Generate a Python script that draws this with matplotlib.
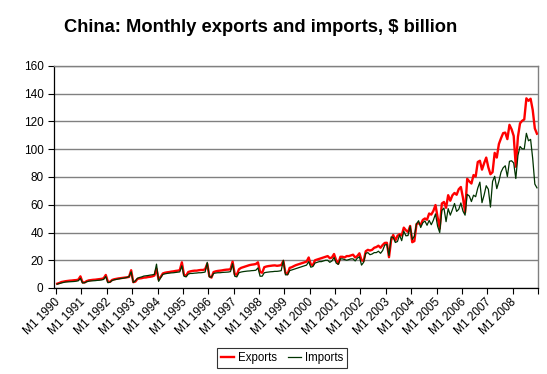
import matplotlib
matplotlib.use("Agg")
import matplotlib.pyplot as plt
import numpy as np

plt.rcParams.update({'font.family': ['Liberation Sans', 'DejaVu Sans'], 'font.size': 8})

# --- DADOS (US$ bilhões, mensal, jan/1990 - dez/2008) ---
years = list(range(1990, 2009))

exports_by_year = {
    1990: [3.1, 3.6, 4.3, 4.6, 4.9, 5.1, 5.3, 5.4, 5.6, 5.7, 6.0, 8.4],
    1991: [4.1, 4.0, 5.0, 5.5, 5.7, 5.9, 6.0, 6.2, 6.4, 6.6, 7.0, 9.4],
    1992: [4.5, 4.4, 5.8, 6.3, 6.6, 6.9, 7.1, 7.3, 7.5, 7.7, 8.0, 12.8],
    1993: [4.2, 4.6, 6.6, 6.9, 7.1, 7.5, 7.6, 7.9, 8.1, 8.4, 9.0, 13.8],
    1994: [6.0, 8.0, 10.5, 11.0, 11.3, 11.5, 11.8, 12.0, 12.3, 12.5, 12.8, 18.5],
    1995: [9.5, 8.8, 11.5, 12.0, 12.3, 12.5, 12.5, 12.8, 13.0, 13.0, 13.5, 17.5],
    1996: [8.5, 7.5, 11.5, 12.0, 12.3, 12.5, 12.7, 13.0, 13.2, 13.3, 13.5, 19.0],
    1997: [10.0, 9.5, 13.5, 14.5, 15.0, 15.5, 16.0, 16.5, 16.8, 17.0, 17.3, 18.5],
    1998: [11.5, 11.0, 15.0, 15.5, 15.8, 16.0, 16.2, 16.3, 16.0, 16.2, 16.5, 19.5],
    1999: [11.0, 10.0, 14.5, 15.0, 15.8, 16.5, 17.0, 17.5, 18.0, 18.5, 19.0, 22.0],
    2000: [17.0, 16.5, 20.0, 20.5, 21.0, 21.5, 22.0, 22.5, 23.0, 21.5, 22.0, 24.5],
    2001: [20.0, 17.5, 22.5, 22.5, 22.0, 23.0, 23.0, 23.5, 24.0, 22.0, 23.0, 25.0],
    2002: [20.0, 19.5, 26.5, 27.5, 27.0, 27.5, 29.0, 29.5, 30.5, 29.0, 31.0, 32.5],
    2003: [32.6, 22.2, 34.3, 38.2, 34.2, 37.6, 38.8, 37.8, 43.5, 41.6, 40.4, 44.7],
    2004: [33.0, 33.8, 46.0, 46.8, 45.5, 49.1, 50.1, 49.2, 53.7, 52.9, 55.6, 59.8],
    2005: [50.9, 42.9, 60.9, 62.0, 57.8, 66.9, 62.9, 66.8, 68.5, 67.2, 71.2, 72.8],
    2006: [65.0, 54.5, 78.7, 76.8, 75.3, 81.4, 80.3, 90.8, 91.7, 85.3, 89.9, 94.0],
    2007: [87.0, 82.0, 83.5, 97.4, 94.0, 103.8, 107.9, 111.6, 112.0, 107.3, 117.6, 114.4],
    2008: [109.6, 87.4, 108.9, 118.7, 120.5, 121.5, 136.7, 134.9, 136.4, 128.3, 115.0, 111.2],
}

imports_by_year = {
    1990: [2.8, 3.2, 3.6, 4.0, 4.3, 4.4, 4.5, 4.6, 4.7, 4.9, 5.2, 7.0],
    1991: [3.6, 3.8, 4.5, 4.9, 5.1, 5.2, 5.3, 5.5, 5.6, 5.8, 6.2, 8.3],
    1992: [3.8, 4.2, 5.4, 5.9, 6.2, 6.5, 6.8, 7.0, 7.3, 7.6, 8.2, 11.7],
    1993: [4.0, 5.2, 7.0, 7.6, 8.0, 8.6, 8.8, 9.0, 9.3, 9.5, 9.8, 17.2],
    1994: [4.8, 7.5, 9.8, 10.2, 10.5, 10.7, 10.9, 11.0, 11.2, 11.4, 11.6, 16.0],
    1995: [8.5, 8.0, 10.0, 10.5, 10.5, 10.7, 10.8, 11.0, 11.0, 11.2, 11.5, 18.5],
    1996: [8.0, 7.8, 10.5, 10.8, 11.0, 11.0, 11.2, 11.3, 11.4, 11.5, 11.8, 17.5],
    1997: [8.5, 8.0, 11.0, 11.5, 11.8, 12.0, 12.2, 12.3, 12.5, 12.6, 12.8, 14.5],
    1998: [8.5, 8.5, 11.0, 11.3, 11.5, 11.7, 11.8, 12.0, 12.0, 12.2, 12.5, 20.0],
    1999: [9.5, 9.5, 12.5, 13.0, 13.5, 14.0, 14.5, 15.0, 15.5, 16.0, 16.5, 19.0],
    2000: [15.0, 15.5, 18.0, 18.5, 19.0, 19.0, 19.5, 20.0, 20.0, 18.5, 19.5, 22.0],
    2001: [18.0, 17.0, 21.0, 21.0, 20.5, 20.0, 20.5, 21.0, 21.0, 19.5, 21.5, 22.5],
    2002: [16.5, 18.5, 25.0, 25.5, 24.0, 24.5, 25.5, 25.5, 26.5, 25.0, 27.0, 31.0],
    2003: [31.4, 23.4, 36.8, 36.5, 32.8, 33.5, 38.2, 34.1, 40.9, 37.6, 37.8, 44.5],
    2004: [35.0, 37.3, 46.2, 48.5, 43.6, 47.0, 48.3, 45.2, 48.7, 45.6, 48.9, 53.4],
    2005: [44.5, 40.0, 55.9, 57.6, 47.8, 57.2, 52.5, 56.5, 60.9, 55.2, 56.7, 61.3],
    2006: [55.4, 52.5, 67.5, 66.3, 62.3, 66.9, 65.8, 72.0, 76.3, 61.5, 67.0, 73.7],
    2007: [71.2, 58.3, 76.8, 80.5, 71.6, 76.9, 83.5, 86.6, 88.1, 80.3, 91.3, 91.7],
    2008: [90.1, 78.9, 95.5, 102.0, 100.3, 100.2, 111.5, 106.1, 107.1, 93.2, 74.9, 72.2],
}

exports = np.concatenate([exports_by_year[y] for y in years])
imports = np.concatenate([imports_by_year[y] for y in years])
tick_labels = [f"M1 {y}" for y in years]

# --- FIGURA ---
W, H = 547, 374
fig = plt.figure(figsize=(W / 100, H / 100), dpi=100)
ax = fig.add_axes([54 / W, 1 - 288 / H, (538 - 54) / W, (288 - 66) / H])

idx = np.arange(len(exports))
ax.plot(idx, exports, color='#ff0000', lw=1.7, label='Exports', zorder=3)
ax.plot(idx, imports, color='#003300', lw=0.9, label='Imports', zorder=4)

ax.set_xlim(-0.5, len(exports) - 0.5)
ax.set_ylim(0, 160)
ax.set_yticks(np.arange(0, 161, 20))
ax.yaxis.grid(True, color='#808080', lw=1)
ax.set_axisbelow(True)

# marcas entre categorias, rótulos em jan de cada ano (ancorados logo antes da marca)
ax.set_xticks(np.arange(0, len(exports) + 1, 12) - 0.5)
ax.set_xticklabels([])
ax.set_xticks(np.arange(0, len(exports), 12) - 1.5, tick_labels, minor=True)
ax.tick_params(axis='x', which='major', length=4, width=0.8, direction='out')
ax.tick_params(axis='x', which='minor', length=0, pad=6)
ax.tick_params(axis='y', length=4, width=0.8, direction='out', labelsize=8.5)
for lab in ax.get_xticklabels(minor=True):
    lab.set_rotation(45)
    lab.set_ha('right')
    lab.set_va('top')
    lab.set_rotation_mode('anchor')
    lab.set_fontsize(8.5)

for s in ['left', 'bottom']:
    ax.spines[s].set_color('black')
    ax.spines[s].set_linewidth(0.9)
for s in ['top', 'right']:
    ax.spines[s].set_color('#808080')
    ax.spines[s].set_linewidth(1)

fig.text(261 / W, 1 - 27 / H, 'China: Monthly exports and imports, $ billion',
         ha='center', va='center', fontsize=13.2, fontweight='bold')

leg = fig.legend(loc='center', bbox_to_anchor=(282 / W, 1 - 358 / H), ncol=2,
                 fontsize=8.3, frameon=True, fancybox=False, edgecolor='black',
                 handlelength=1.15, handletextpad=0.35, columnspacing=0.9,
                 borderpad=0.35, borderaxespad=0)
leg.get_frame().set_linewidth(0.8)

fig.savefig('out.png', dpi=100)
